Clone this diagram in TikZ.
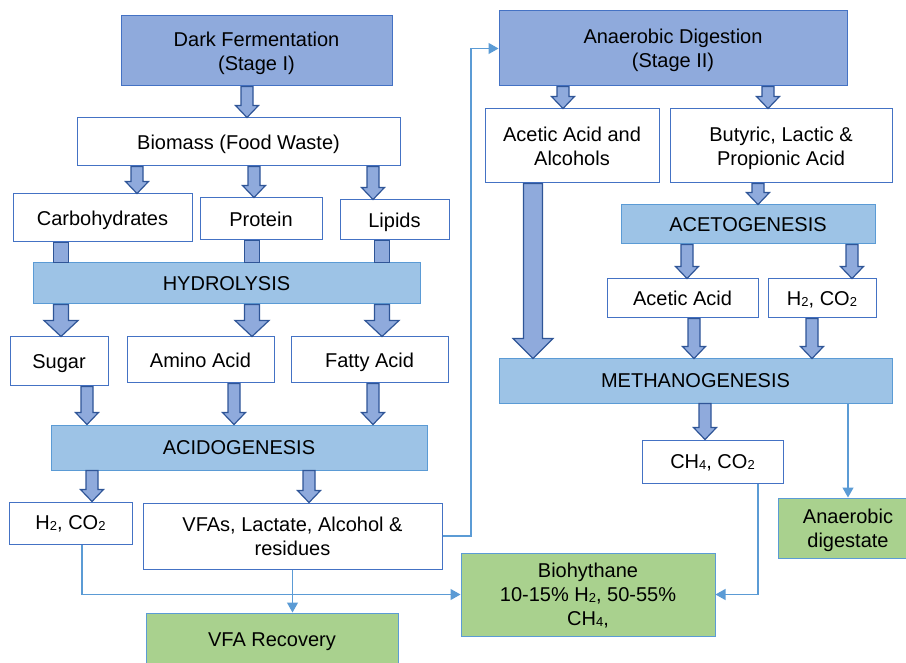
\documentclass[tikz,border=0pt]{standalone}
\usepackage{fontspec}
\setmainfont{Liberation Sans}
\usepackage{tikz}
\usetikzlibrary{arrows.meta,calc}
\tikzstyle{plan} = [x = 1pt, y = -1pt, font=\fontsize{20}{24}\selectfont]
\definecolor{stageFill}{HTML}{8FAADC}
\definecolor{stageLine}{HTML}{4472C4}
\definecolor{processFill}{HTML}{9DC3E6}
\definecolor{processLine}{HTML}{5B9BD5}
\definecolor{productFill}{HTML}{A9D18E}
\definecolor{arrowLine}{HTML}{2F5597}
\tikzstyle{boxStyle} = [draw=stageLine, fill=white, line width=1pt, inner sep=0pt, align=center, text depth=0pt]
\tikzstyle{stageStyle} = [boxStyle, fill=stageFill]
\tikzstyle{processStyle} = [boxStyle, draw=processLine, fill=processFill]
\tikzstyle{productStyle} = [boxStyle, draw=processLine, fill=productFill]
\tikzstyle{blockArrowStyle} = [draw=arrowLine, fill=stageFill, line width=1.2pt, line join=miter]
\tikzstyle{flowLine} = [draw=processLine, line width=1.3pt, -{Triangle[length=10pt,width=11pt]}]
\newcommand{\subs}[1]{\raisebox{-1pt}{\fontsize{13}{13}\selectfont #1}}
\newcommand{\boxNode}[7]{\node [#1, minimum width=#5pt, minimum height=#6pt] (#2) at (#3,#4) {#7};}
% block arrow: x, from, to, shaft half width, head half width, head length
\newcommand{\blockArrow}[6]{\filldraw [blockArrowStyle] let \p1 = (#2.south -| #1,0), \p2 = (#3.north -| #1,0) in (\x1-#4pt,\y1) -- (\x1+#4pt,\y1) -- (\x1+#4pt,\y2+#6pt) -- (\x1+#5pt,\y2+#6pt) -- (\p2) -- (\x1-#5pt,\y2+#6pt) -- (\x1-#4pt,\y2+#6pt) -- cycle;}
\newcommand{\smallArrow}[3]{\blockArrow{#1}{#2}{#3}{6}{11.5}{12}}
\newcommand{\wideArrow}[3]{\blockArrow{#1}{#2}{#3}{7.5}{17}{16}}
% shaft only, its head is hidden under the next box
\newcommand{\blockShaft}[4]{\filldraw [blockArrowStyle] let \p1 = (#2.south -| #1,0), \p2 = (#3.north -| #1,0) in (\x1-#4pt,\y1) rectangle (\x1+#4pt,\y2);}

\begin{document}
\begin{tikzpicture}[plan]
  \clip (0,0) rectangle (906,663);
  % stage I
  \boxNode{stageStyle}{darkFerm}{256.5}{51}{271}{70}{Dark Fermentation\\(Stage I)}
  \boxNode{boxStyle}{biomass}{238.5}{142}{323}{48}{Biomass (Food Waste)}
  \boxNode{boxStyle}{carbo}{102.5}{218}{179}{48}{Carbohydrates}
  \boxNode{boxStyle}{protein}{261}{219}{122}{42}{Protein}
  \boxNode{boxStyle}{lipids}{394.5}{220}{109}{40}{Lipids}
  \boxNode{processStyle}{hydrolysis}{226.5}{283.5}{387}{41}{HYDROLYSIS}
  \boxNode{boxStyle}{sugar}{59}{361.5}{98}{49}{Sugar}
  \boxNode{boxStyle}{amino}{200.5}{360}{147}{46}{Amino Acid}
  \boxNode{boxStyle}{fatty}{369.5}{360}{157}{46}{Fatty Acid}
  \boxNode{processStyle}{acido}{239}{447.5}{376}{45}{ACIDOGENESIS}
  \boxNode{boxStyle}{hydrogenA}{70.5}{523}{123}{42}{H\subs{2}, CO\subs{2}}
  \boxNode{boxStyle}{vfas}{292.5}{536}{299}{66}{VFAs, Lactate, Alcohol \&\\residues}
  \boxNode{productStyle}{vfaRecovery}{272}{640}{252}{54}{VFA Recovery}
  % stage II
  \boxNode{stageStyle}{anaDig}{673}{48.5}{348}{75}{Anaerobic Digestion\\(Stage II)}
  \boxNode{boxStyle}{aceticAlc}{572}{146}{174}{74}{Acetic Acid and\\Alcohols}
  \boxNode{boxStyle}{butyric}{781}{146}{222}{74}{Butyric, Lactic \&\\Propionic Acid}
  \boxNode{processStyle}{acetogen}{748}{224.5}{254}{39}{ACETOGENESIS}
  \boxNode{boxStyle}{aceticAcid}{682.5}{298.5}{151}{39}{Acetic Acid}
  \boxNode{boxStyle}{hydrogenB}{822}{298.5}{108}{39}{H\subs{2}, CO\subs{2}}
  \boxNode{processStyle}{methano}{695.5}{381}{393}{44}{METHANOGENESIS}
  \boxNode{boxStyle}{methane}{712.5}{461.5}{141}{43}{CH\subs{4}, CO\subs{2}}
  \boxNode{productStyle}{digestate}{848}{528}{140}{60}{Anaerobic\\digestate}
  \boxNode{productStyle}{biohythane}{588}{594.5}{254}{83}{Biohythane\\10-15\% H\subs{2}, 50-55\%\\CH\subs{4},}
  % block arrows
  \smallArrow{247}{darkFerm}{biomass}
  \smallArrow{137}{biomass}{carbo}\smallArrow{254}{biomass}{protein}\smallArrow{373}{biomass}{lipids}
  \blockShaft{61}{carbo}{hydrolysis}{7.5}\blockShaft{252}{protein}{hydrolysis}{7.5}\blockShaft{382}{lipids}{hydrolysis}{7.5}
  \wideArrow{61}{hydrolysis}{sugar}\wideArrow{252}{hydrolysis}{amino}\wideArrow{382}{hydrolysis}{fatty}
  \smallArrow{87}{sugar}{acido}\smallArrow{234}{amino}{acido}\smallArrow{373}{fatty}{acido}
  \smallArrow{92}{acido}{hydrogenA}\smallArrow{309}{acido}{vfas}
  \smallArrow{563}{anaDig}{aceticAlc}\smallArrow{768}{anaDig}{butyric}
  \smallArrow{758}{butyric}{acetogen}
  \blockArrow{533}{aceticAlc}{methano}{9.5}{20}{20}
  \smallArrow{687}{acetogen}{aceticAcid}\smallArrow{852}{acetogen}{hydrogenB}
  \smallArrow{694}{aceticAcid}{methano}\smallArrow{812}{hydrogenB}{methano}
  \smallArrow{705}{methano}{methane}
  % product lines
  \coordinate (loopTurn) at (471,48.5);
  \draw [flowLine] (hydrogenA.south -| 82,0) |- (biohythane.west);
  \draw [flowLine] (vfas.south) -- (vfas.south |- vfaRecovery.north);
  \draw [flowLine] (vfas.east) -| (loopTurn) -- (anaDig.west);
  \draw [flowLine] (methane.south -| 758,0) |- (biohythane.east);
  \draw [flowLine] (methano.south -| 848,0) -- (digestate.north);
\end{tikzpicture}
\end{document}
